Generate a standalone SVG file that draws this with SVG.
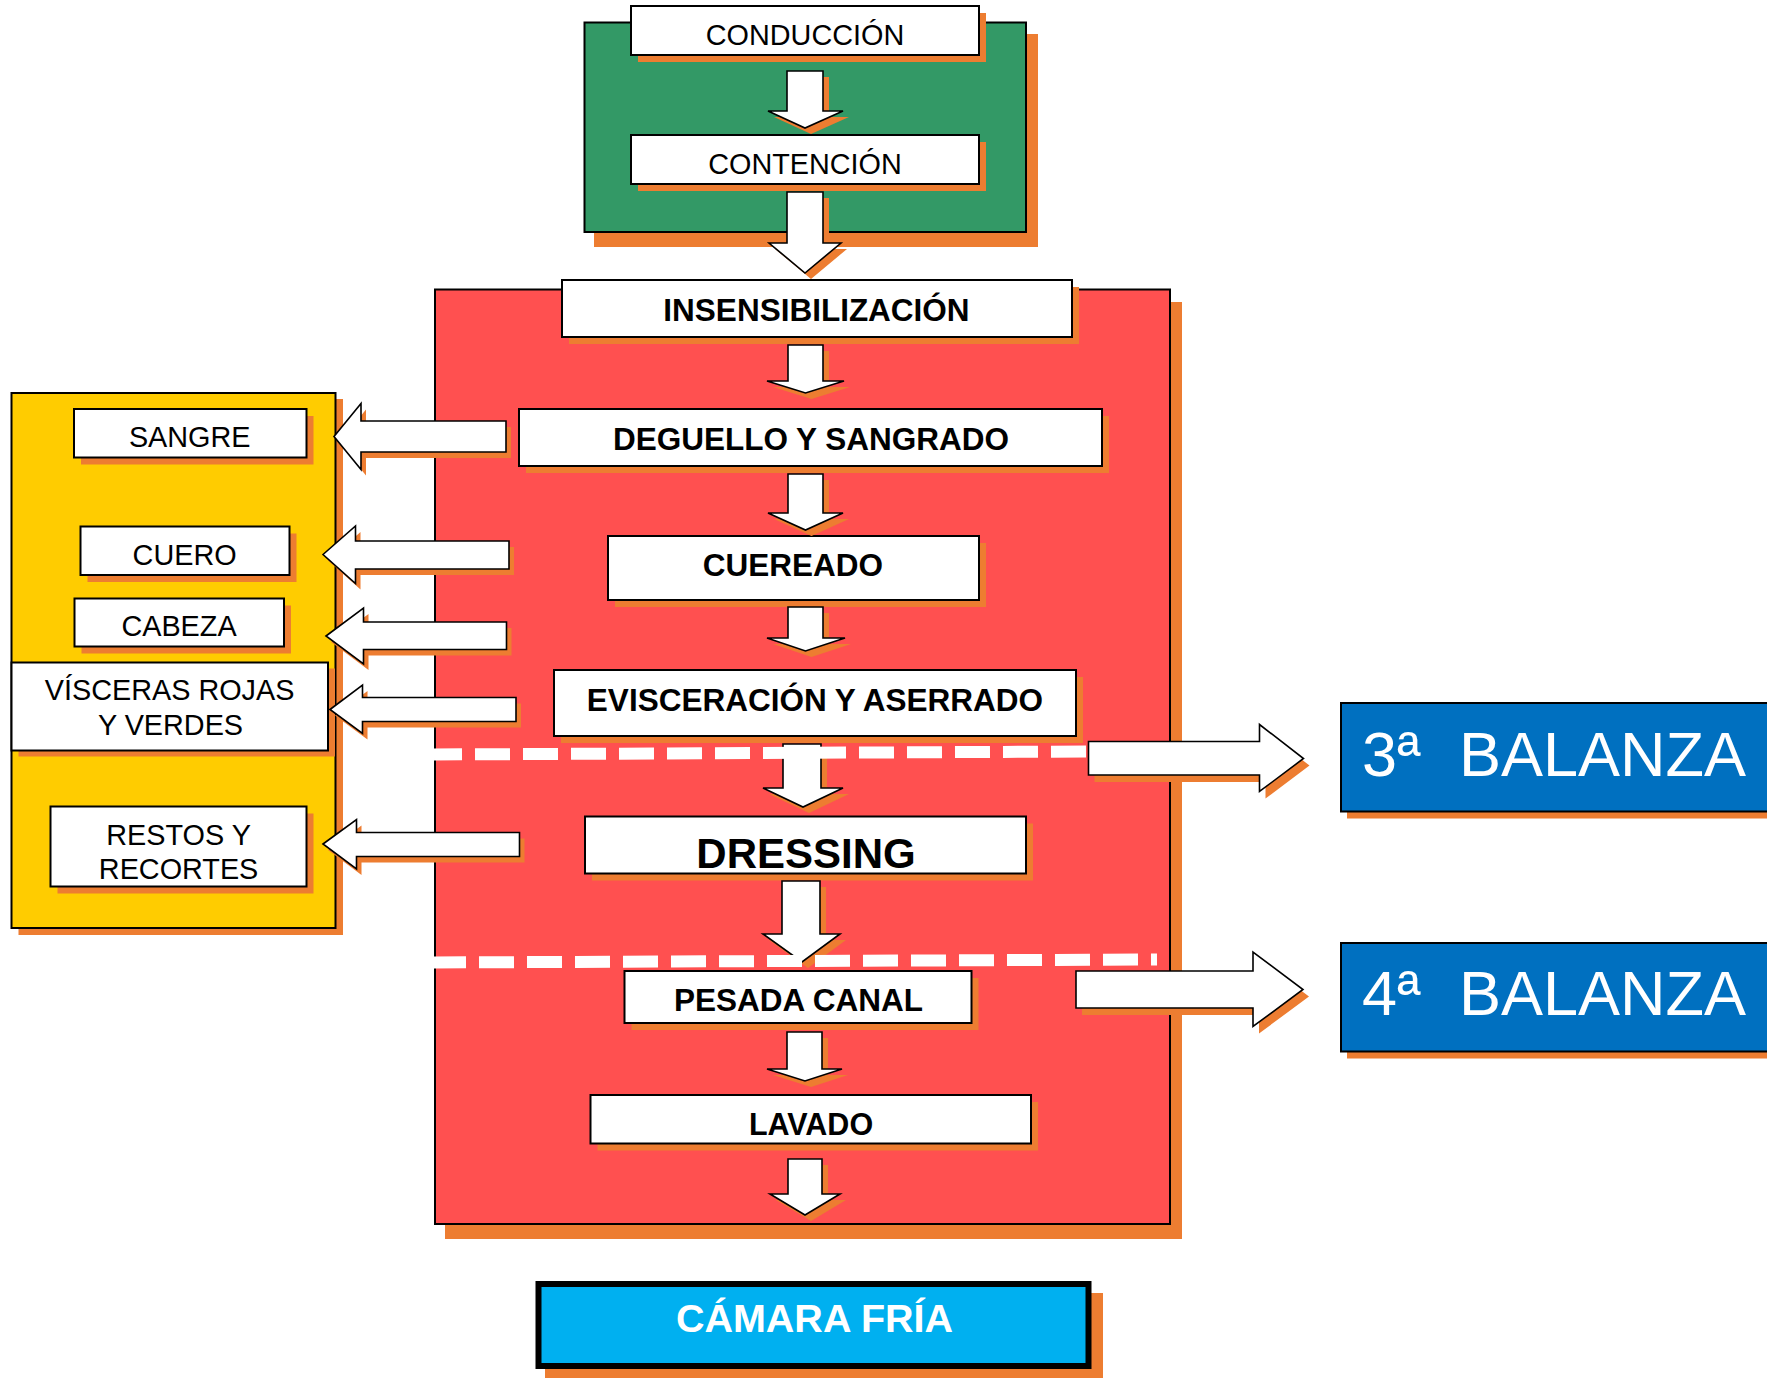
<svg xmlns="http://www.w3.org/2000/svg" xmlns:xlink="http://www.w3.org/1999/xlink" width="1767" height="1378" viewBox="0 0 1767 1378">
<style>
.sh{fill:#ED7D31}
.box{fill:#FFFFFF;stroke:#000000;stroke-width:2}
.arr{fill:#FFFFFF;stroke:#000000;stroke-width:1.6;stroke-linejoin:miter}
.t{font-family:"Liberation Sans",Arial,Helvetica,sans-serif;text-anchor:middle;fill:#000000}
.r{font-size:28.8px}
.b{font-size:31.5px;font-weight:bold}
.dash{fill:none;stroke:#FFFFFF;stroke-width:12;stroke-dasharray:35 13}
.bal{fill:#0070C0;stroke:#000000;stroke-width:2}
.bt{font-family:"Liberation Sans",Arial,Helvetica,sans-serif;font-size:63px;fill:#FFFFFF}
</style>
<defs>
<polygon id="a1" points="787,71 823,71 823,111 843,111 805,128 768,111 787,111"/>
<polygon id="a2" points="787,192 823,192 823,243 841,243 805,273 769,243 787,243"/>
<polygon id="a3" points="788,345 823,345 823,381 844,381 805.5,393 767,381 788,381"/>
<polygon id="a4" points="788,474 823,474 823,513 843,513 805.5,530 768,513 788,513"/>
<polygon id="a5" points="788,607 823,607 823,638 845,638 805.5,651 767,638 788,638"/>
<polygon id="a6" points="783,744 821,744 821,788 843,788 803,807 763,788 783,788"/>
<polygon id="a7" points="782,881 820,881 820,934 840,934 802,962 763,934 782,934"/>
<polygon id="a8" points="787,1032 822,1032 822,1069 842,1069 805,1081 767,1069 787,1069"/>
<polygon id="a9" points="788,1159 822,1159 822,1194 840,1194 805,1215 770,1194 788,1194"/>
<polygon id="l1" points="334,436.5 361,403.5 361,421 506,421 506,452 361,452 361,469.5"/>
<polygon id="l2" points="323,554.5 355.5,526 355.5,541 509,541 509,569 355.5,569 355.5,583.5"/>
<polygon id="l3" points="326,636 363.5,608 363.5,622 506.5,622 506.5,649.5 363.5,649.5 363.5,664"/>
<polygon id="l4" points="330,709.5 362.5,685 362.5,697.5 516,697.5 516,721.5 362.5,721.5 362.5,733.5"/>
<polygon id="l5" points="323,844 356.5,819.5 356.5,832.5 519.5,832.5 519.5,856.5 356.5,856.5 356.5,869"/>
<polygon id="r1" points="1088.5,741.5 1259.5,741.5 1259.5,724.5 1303.5,758.5 1259.5,791.5 1259.5,775 1088.5,775"/>
<polygon id="r2" points="1076,971 1253,971 1253,952 1303,989.5 1253,1026.5 1253,1008 1076,1008"/>
</defs>
<rect width="1767" height="1378" fill="#FFFFFF"/>

<g id="zona-sucia">
<rect class="sh" x="594" y="34" width="444" height="213"/>
<rect x="584.5" y="22.5" width="441.5" height="209.5" fill="#339966" stroke="#000000" stroke-width="2"/>
</g>
<g id="zona-limpia">
<rect class="sh" x="445" y="302" width="737" height="937"/>
<rect x="435" y="289.5" width="735" height="934.5" fill="#FF5050" stroke="#000000" stroke-width="2"/>
</g>
<g id="subproductos">
<rect class="sh" x="18.5" y="399" width="324.5" height="536"/>
<rect x="11.5" y="393" width="324" height="535" fill="#FFCC00" stroke="#000000" stroke-width="2"/>
</g>

<g id="conduccion">
<rect class="sh" x="638" y="13" width="348" height="49"/>
<rect class="box" x="631" y="6" width="348" height="49"/>
<text class="t r" x="805" y="45">CONDUCCIÓN</text>
</g>
<g id="contencion">
<rect class="sh" x="638" y="142" width="348" height="49"/>
<rect class="box" x="631" y="135" width="348" height="49"/>
<text class="t r" x="805" y="173.5">CONTENCIÓN</text>
</g>
<g id="insensibilizacion">
<rect class="sh" x="569" y="287" width="510" height="57"/>
<rect class="box" x="562" y="280" width="510" height="57"/>
<text class="t b" x="816.5" y="321">INSENSIBILIZACIÓN</text>
</g>
<g id="deguello">
<rect class="sh" x="526" y="416" width="583" height="57"/>
<rect class="box" x="519" y="409" width="583" height="57"/>
<text class="t b" x="811" y="450">DEGUELLO Y SANGRADO</text>
</g>
<g id="cuereado">
<rect class="sh" x="615" y="543" width="371" height="64"/>
<rect class="box" x="608" y="536" width="371" height="64"/>
<text class="t b" x="793" y="576">CUEREADO</text>
</g>
<g id="evisceracion">
<rect class="sh" x="561" y="677" width="522" height="66"/>
<rect class="box" x="554" y="670" width="522" height="66"/>
<text class="t b" x="815" y="711">EVISCERACIÓN Y ASERRADO</text>
</g>
<g id="dressing">
<rect class="sh" x="592" y="823.5" width="441" height="57"/>
<rect class="box" x="585" y="816.5" width="441" height="57"/>
<text class="t" x="806" y="867.5" font-size="42" font-weight="bold">DRESSING</text>
</g>
<g id="pesada-canal">
<rect class="sh" x="631.5" y="978" width="347" height="52"/>
<rect class="box" x="624.5" y="971" width="347" height="52"/>
<text class="t b" x="798.5" y="1011">PESADA CANAL</text>
</g>
<g id="lavado">
<rect class="sh" x="597.5" y="1102" width="440.5" height="48.5"/>
<rect class="box" x="590.5" y="1095" width="440.5" height="48.5"/>
<text class="t" x="811" y="1135" font-size="30.5" font-weight="bold">LAVADO</text>
</g>
<g id="camara-fria">
<rect class="sh" x="545" y="1293" width="558" height="85"/>
<rect x="538.5" y="1284" width="550" height="82" fill="#00B0F0" stroke="#000000" stroke-width="6"/>
<text class="t" x="814.5" y="1332" font-size="39.5" font-weight="bold" fill="#FFFFFF" style="fill:#FFFFFF">CÁMARA FRÍA</text>
</g>

<g id="sangre">
<rect class="sh" x="81" y="416" width="232.5" height="48.5"/>
<rect class="box" x="74" y="409" width="232.5" height="48.5"/>
<text class="t r" x="189.7" y="446.7">SANGRE</text>
</g>
<g id="cuero">
<rect class="sh" x="87.5" y="533.5" width="209" height="48.5"/>
<rect class="box" x="80.5" y="526.5" width="209" height="48.5"/>
<text class="t r" x="184.6" y="565">CUERO</text>
</g>
<g id="cabeza">
<rect class="sh" x="81.5" y="605.5" width="209.5" height="48"/>
<rect class="box" x="74.5" y="598.5" width="209.5" height="48"/>
<text class="t r" x="179" y="636">CABEZA</text>
</g>
<g id="visceras">
<rect class="sh" x="18.5" y="668.5" width="316.5" height="88"/>
<rect class="box" x="11.5" y="662.5" width="316.5" height="88"/>
<text class="t r" x="169.6" y="700">VÍSCERAS ROJAS</text>
<text class="t r" x="170.5" y="735">Y VERDES</text>
</g>
<g id="restos">
<rect class="sh" x="57.5" y="813.5" width="256" height="80"/>
<rect class="box" x="50.5" y="806.5" width="256" height="80"/>
<text class="t r" x="178.6" y="845">RESTOS Y</text>
<text class="t r" x="178.6" y="879.3">RECORTES</text>
</g>

<g id="balanza-3">
<rect class="sh" x="1347" y="710" width="440" height="108.5"/>
<rect class="bal" x="1341" y="703" width="440" height="108.5"/>
<text class="bt" x="1362" y="775.7">3ª<tspan x="1459">BALANZA</tspan></text>
</g>
<g id="balanza-4">
<rect class="sh" x="1347" y="950" width="440" height="108.5"/>
<rect class="bal" x="1341" y="943" width="440" height="108.5"/>
<text class="bt" x="1362" y="1015">4ª<tspan x="1459">BALANZA</tspan></text>
</g>

<g id="connectors">
<use xlink:href="#a1" href="#a1" class="sh" transform="translate(6,6)"/>
<use xlink:href="#a1" href="#a1" class="arr"/>
<use xlink:href="#a2" href="#a2" class="sh" transform="translate(6,6)"/>
<use xlink:href="#a2" href="#a2" class="arr"/>
<use xlink:href="#a3" href="#a3" class="sh" transform="translate(6,6)"/>
<use xlink:href="#a3" href="#a3" class="arr"/>
<use xlink:href="#a4" href="#a4" class="sh" transform="translate(6,6)"/>
<use xlink:href="#a4" href="#a4" class="arr"/>
<use xlink:href="#a5" href="#a5" class="sh" transform="translate(6,6)"/>
<use xlink:href="#a5" href="#a5" class="arr"/>
<use xlink:href="#a6" href="#a6" class="sh" transform="translate(6,6)"/>
<use xlink:href="#a6" href="#a6" class="arr"/>
<use xlink:href="#a7" href="#a7" class="sh" transform="translate(6,6)"/>
<use xlink:href="#a7" href="#a7" class="arr"/>
<use xlink:href="#a8" href="#a8" class="sh" transform="translate(6,6)"/>
<use xlink:href="#a8" href="#a8" class="arr"/>
<use xlink:href="#a9" href="#a9" class="sh" transform="translate(6,6)"/>
<use xlink:href="#a9" href="#a9" class="arr"/>
<use xlink:href="#l1" href="#l1" class="sh" transform="translate(5,6)"/>
<use xlink:href="#l1" href="#l1" class="arr"/>
<use xlink:href="#l2" href="#l2" class="sh" transform="translate(5,6)"/>
<use xlink:href="#l2" href="#l2" class="arr"/>
<use xlink:href="#l3" href="#l3" class="sh" transform="translate(5,6)"/>
<use xlink:href="#l3" href="#l3" class="arr"/>
<use xlink:href="#l4" href="#l4" class="sh" transform="translate(5,6)"/>
<use xlink:href="#l4" href="#l4" class="arr"/>
<use xlink:href="#l5" href="#l5" class="sh" transform="translate(5,6)"/>
<use xlink:href="#l5" href="#l5" class="arr"/>
<line class="dash" x1="434" y1="754.5" x2="1088" y2="751.5" stroke-dashoffset="7"/>
<line class="dash" x1="434" y1="962.5" x2="1157" y2="959.5" stroke-dashoffset="3"/>
<use xlink:href="#r1" href="#r1" class="sh" transform="translate(6,7)"/>
<use xlink:href="#r1" href="#r1" class="arr"/>
<use xlink:href="#r2" href="#r2" class="sh" transform="translate(6,7)"/>
<use xlink:href="#r2" href="#r2" class="arr"/>
</g>
</svg>
